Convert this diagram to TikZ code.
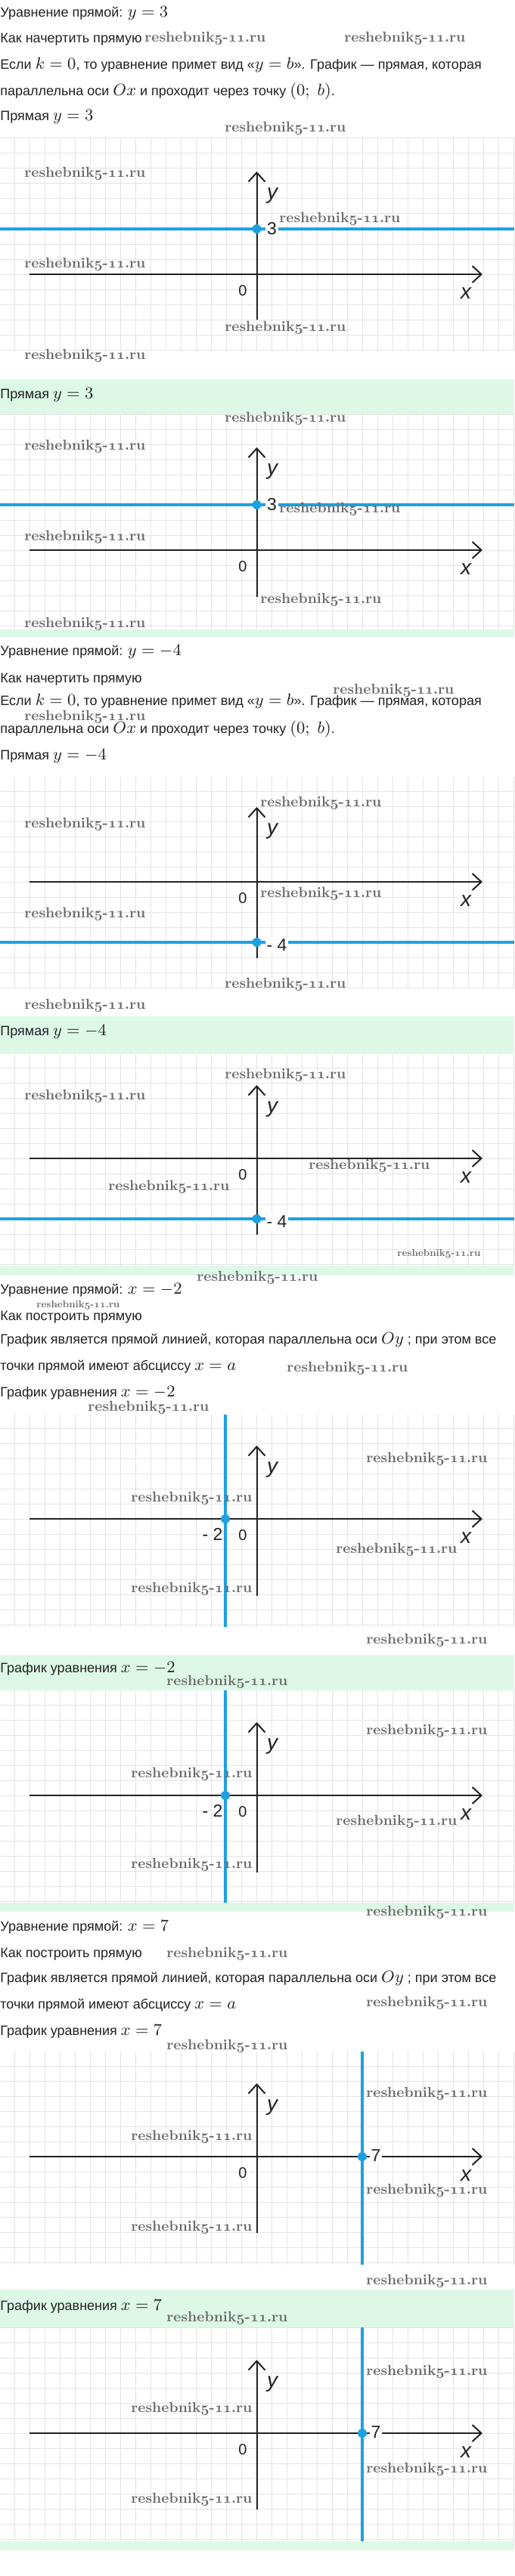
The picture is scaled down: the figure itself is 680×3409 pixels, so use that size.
\documentclass[tikz,border=0pt]{standalone}
\usepackage{fontspec}
\setsansfont{Liberation Sans}
\usepackage{graphicx}
\usetikzlibrary{arrows.meta}
\definecolor{gridc}{HTML}{E4E4E4}
\definecolor{bandc}{HTML}{DDF8E7}
\definecolor{bluec}{HTML}{1DA1E0}
\definecolor{wmc}{HTML}{6A6A6A}
\definecolor{inkc}{HTML}{222222}
\newcommand\osn[1]{{\usefont{OML}{cmm}{b}{it}#1}}
\newcommand\wmtext{reshebnik\osn{5}-\osn{11}.ru}
\newcommand\m[1]{\scalebox{1.22}{$#1$}}
\newcommand\wm[3]{\node[wmark] (#1) at (#2,#3) {\resizebox{80pt}{!}{\wmtext}};}
\newcommand\wmsmall[3]{\node[wmark] (#1) at (#2,#3) {\resizebox{55pt}{!}{\wmtext}};}
\newcommand\graphaxes[6]{%
  \fill[white] (0,#2) rectangle (680,#3);
  \begin{scope}
    \clip (0,#2) rectangle (680,#3);
    \foreach \i in {-17,...,17} {\draw[gridline] ({339.5+20*\i},#2) -- ({339.5+20*\i},#3);}
    \foreach \j in {-16,...,16} {\draw[gridline] (0,{#4+20*\j}) -- (680,{#4+20*\j});}
  \end{scope}
  \coordinate (#1xl) at (39,#4);
  \coordinate (#1xr) at (638,#4);
  \coordinate (#1yb) at (339.5,#6);
  \coordinate (#1yt) at (339.5,#5);
  \draw[axisline] (#1xl) -- (#1xr);
  \draw[axisline] (#1yb) -- (#1yt);
  \node[axlab] (#1y) at (360,{#5+32}) {y};
  \node[zerolab] (#1o) at (321,{#4+22}) {0};
  \node[axlab] (#1x) at (616,{#4+25}) {x};
}
\tikzset{
  txt/.style={font=\sffamily\fontsize{9}{11}\selectfont, text=inkc, inner sep=0pt, anchor=base west},
  wmark/.style={font=\rmfamily\bfseries, text=wmc, inner sep=0pt, anchor=base west},
  gridline/.style={draw=gridc, line width=0.5pt},
  axisline/.style={draw=inkc, line width=1pt, -{Straight Barb[length=6pt,width=11pt,line width=1pt]}},
  blueline/.style={draw=bluec, line width=1.75pt},
  bluedot/.style={circle, fill=bluec, inner sep=0pt, minimum size=6pt},
  axlab/.style={font=\sffamily\itshape\fontsize{14}{16}\selectfont, text=inkc, inner sep=0pt},
  zerolab/.style={font=\sffamily\fontsize{10}{12}\selectfont, text=inkc, inner sep=0pt},
  numlab/.style={font=\sffamily\fontsize{11.5}{13}\selectfont, text=inkc, inner sep=1pt, fill=white},
  numlabn/.style={font=\sffamily\fontsize{11.5}{13}\selectfont, text=inkc, inner sep=1pt},
}
\begin{document}
\begin{tikzpicture}[x=0.5pt,y=-0.5pt]
\useasboundingbox (0,0) rectangle (680,3409);
\fill[white] (0,0) rectangle (680,3409);
% green answer bands
\fill[bandc] (0,502) rectangle (680,843);
\fill[bandc] (0,1345) rectangle (680,1688);
\fill[bandc] (0,2190) rectangle (680,2530);
\fill[bandc] (0,3030) rectangle (680,3375);

% ===== Section A: y = 3
\node[txt] (a1) at (0,23) {Уравнение прямой: \m{y = 3}};
\node[txt] (a2) at (0,57) {Как начертить прямую};
\node[txt] (a3) at (0,92) {Если \m{k = 0}, то уравнение примет вид «\m{y = b}». График — прямая, которая};
\node[txt] (a4) at (0,127) {параллельна оси \m{Ox} и проходит через точку \m{(0;\ b)}.};
\node[txt] (a5) at (0,160) {Прямая \m{y = 3}};

\graphaxes{ga}{183}{463}{363}{227}{423}
\coordinate (gabl) at (0,303); \coordinate (gabr) at (680,303);
\draw[blueline] (gabl) -- (gabr);
\node[bluedot] (gadot) at (339.5,303) {};
\node[numlab] (ga3) at (359.5,303) {3};

\node[txt] (a6) at (0,527) {Прямая \m{y = 3}};
\graphaxes{gb}{548}{833}{728}{592}{790}
\coordinate (gbbl) at (0,668); \coordinate (gbbr) at (680,668);
\draw[blueline] (gbbl) -- (gbbr);
\node[bluedot] (gbdot) at (339.5,668) {};
\node[numlab] (gb3) at (359.5,668) {3};

% ===== Section B: y = -4
\node[txt] (b1) at (0,867) {Уравнение прямой: \m{y = -4}};
\node[txt] (b2) at (0,903) {Как начертить прямую};
\node[txt] (b3) at (0,933) {Если \m{k = 0}, то уравнение примет вид «\m{y = b}». График — прямая, которая};
\node[txt] (b4) at (0,970) {параллельна оси \m{Ox} и проходит через точку \m{(0;\ b)}.};
\node[txt] (b5) at (0,1005) {Прямая \m{y = -4}};

\graphaxes{gc}{1028}{1308}{1167}{1068}{1268}
\coordinate (gcbl) at (0,1247); \coordinate (gcbr) at (680,1247);
\draw[blueline] (gcbl) -- (gcbr);
\node[bluedot] (gcdot) at (339.5,1247) {};
\node[numlab] (gc4) at (366,1251) {- 4};

\node[txt] (b6) at (0,1370) {Прямая \m{y = -4}};
\graphaxes{gd}{1395}{1675}{1533}{1436}{1634}
\coordinate (gdbl) at (0,1613); \coordinate (gdbr) at (680,1613);
\draw[blueline] (gdbl) -- (gdbr);
\node[bluedot] (gddot) at (339.5,1613) {};
\node[numlab] (gd4) at (366,1617) {- 4};

% ===== Section C: x = -2
\node[txt] (c1) at (0,1712) {Уравнение прямой: \m{x = -2}};
\node[txt] (c2) at (0,1747) {Как построить прямую};
\node[txt] (c3) at (0,1778) {График является прямой линией, которая параллельна оси \m{Oy} ; при этом все};
\node[txt] (c4) at (0,1813) {точки прямой имеют абсциссу \m{x = a}};
\node[txt] (c5) at (0,1848) {График уравнения \m{x = -2}};

\graphaxes{ge}{1872}{2153}{2010}{1913}{2112}
\coordinate (gebt) at (298,1872); \coordinate (gebb) at (298,2153);
\draw[blueline] (gebt) -- (gebb);
\node[bluedot] (gedot) at (298,2010) {};
\node[numlabn] (ge2) at (281,2030) {- 2};

\node[txt] (c6) at (0,2213) {График уравнения \m{x = -2}};
\graphaxes{gf}{2237}{2518}{2376}{2279}{2478}
\coordinate (gfbt) at (298,2237); \coordinate (gfbb) at (298,2518);
\draw[blueline] (gfbt) -- (gfbb);
\node[bluedot] (gfdot) at (298,2376) {};
\node[numlabn] (gf2) at (281,2396) {- 2};

% ===== Section D: x = 7
\node[txt] (d1) at (0,2555) {Уравнение прямой: \m{x = 7}};
\node[txt] (d2) at (0,2590) {Как построить прямую};
\node[txt] (d3) at (0,2623) {График является прямой линией, которая параллельна оси \m{Oy} ; при этом все};
\node[txt] (d4) at (0,2658) {точки прямой имеют абсциссу \m{x = a}};
\node[txt] (d5) at (0,2693) {График уравнения \m{x = 7}};

\graphaxes{gg}{2715}{2997}{2854}{2757}{2955}
\coordinate (ggbt) at (479,2715); \coordinate (ggbb) at (479,2997);
\draw[blueline] (ggbt) -- (ggbb);
\node[bluedot] (ggdot) at (479,2854) {};
\node[numlab] (gg7) at (497,2853) {7};

\node[txt] (d6) at (0,3057) {График уравнения \m{x = 7}};
\graphaxes{gh}{3080}{3363}{3220}{3123}{3321}
\coordinate (ghbt) at (479,3080); \coordinate (ghbb) at (479,3363);
\draw[blueline] (ghbt) -- (ghbb);
\node[bluedot] (ghdot) at (479,3220) {};
\node[numlab] (gh7) at (497,3219) {7};

% ===== watermarks
\wm{w1}{191}{56}
\wm{w2}{455}{56}
\wm{w3}{297}{175}
\wm{w4}{32}{235}
\wm{w5}{369}{295}
\wm{w6}{32}{355}
\wm{w7}{297}{438}
\wm{w8}{32}{475}
\wm{w9}{297}{558}
\wm{w10}{32}{595}
\wm{w11}{369}{678}
\wm{w12}{32}{715}
\wm{w13}{344}{798}
\wm{w14}{32}{830}
\wm{w15}{440}{918}
\wm{w16}{32}{953}
\wm{w17}{344}{1067}
\wm{w18}{32}{1095}
\wm{w19}{344}{1187}
\wm{w20}{32}{1214}
\wm{w21}{297}{1307}
\wm{w22}{32}{1335}
\wm{w23}{297}{1427}
\wm{w24}{32}{1455}
\wm{w25}{408}{1547}
\wm{w26}{143}{1575}
\wmsmall{w27}{525}{1662}
\wm{w28}{260}{1695}
\wmsmall{w29}{48}{1730}
\wm{w30}{379}{1815}
\wm{w31}{116}{1867}
\wm{w32}{484}{1935}
\wm{w33}{173}{1987}
\wm{w34}{444}{2055}
\wm{w35}{173}{2107}
\wm{w36}{484}{2175}
\wm{w37}{220}{2230}
\wm{w38}{484}{2295}
\wm{w39}{173}{2352}
\wm{w40}{444}{2415}
\wm{w41}{173}{2472}
\wm{w42}{484}{2535}
\wm{w43}{220}{2590}
\wm{w44}{484}{2655}
\wm{w45}{220}{2712}
\wm{w46}{484}{2775}
\wm{w47}{173}{2832}
\wm{w48}{484}{2903}
\wm{w49}{173}{2952}
\wm{w50}{484}{3023}
\wm{w51}{220}{3072}
\wm{w52}{484}{3143}
\wm{w53}{173}{3192}
\wm{w54}{484}{3272}
\wm{w55}{173}{3312}
\end{tikzpicture}
\end{document}
